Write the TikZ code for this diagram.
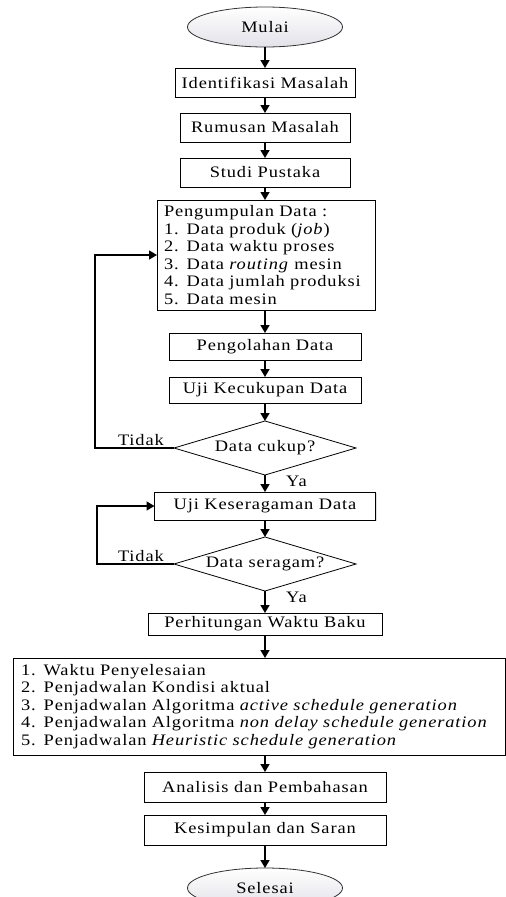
\documentclass[tikz,border=0pt]{standalone}
\usepackage{fontspec}
\setmainfont{Liberation Serif}[FakeStretch=1.15,LetterSpace=5.5]
\usetikzlibrary{positioning,shapes.geometric,arrows.meta,shadows}

\begin{document}
\begin{tikzpicture}[x=1pt, y=1pt, node distance=16pt,
  font=\fontsize{16}{17.5}\selectfont,
  box/.style={rectangle, draw, line width=0.8pt, fill=white, inner sep=2pt, outer sep=0pt,
    drop shadow={shadow xshift=1.2pt, shadow yshift=-1.2pt, opacity=0.25}},
  term/.style={ellipse, draw=black!80, line width=0.8pt, top color=white, outer sep=0pt,
    bottom color=blue!15!gray!20, minimum width=155pt, minimum height=40pt, inner sep=0pt},
  dec/.style={diamond, draw, line width=0.8pt, fill=white, aspect=3.4, outer sep=0pt,
    minimum width=182pt, minimum height=54pt, inner sep=0pt},
  list/.style={box, align=left, inner xsep=7pt},
  arr/.style={-{Triangle[width=9pt,length=8pt]}, line width=1.4pt},
  lbl/.style={inner sep=1pt}]
\useasboundingbox (0,0) rectangle (506,-897);

\node (mulai) [term] at (265,-27) {Mulai};
\node (identifikasi) [box, minimum width=180pt, minimum height=29pt, below=21pt of mulai] {Identifikasi Masalah};
\node (rumusan) [box, minimum width=170pt, minimum height=29pt, below=of identifikasi] {Rumusan Masalah};
\node (studi) [box, minimum width=170pt, minimum height=29pt, below=of rumusan] {Studi Pustaka};
\node (pengumpulan) [list, text width=204pt, minimum height=110pt, below=13pt of studi, xshift=1pt] {Pengumpulan Data :\\
1. Data produk (\textit{job})\\
2. Data waktu proses\\
3. Data \textit{routing} mesin\\
4. Data jumlah produksi\\
5. Data mesin};
\node (pengolahan) [box, minimum width=192pt, minimum height=27pt, below=23pt of pengumpulan, xshift=-1pt] {Pengolahan Data};
\node (kecukupan) [box, minimum width=192pt, minimum height=26pt, below=17pt of pengolahan] {Uji Kecukupan Data};
\node (cukup) [dec, below=18pt of kecukupan] {Data cukup?};
\node (keseragaman) [box, minimum width=221pt, minimum height=28pt, below=17pt of cukup] {Uji Keseragaman Data};
\node (seragam) [dec, below=17pt of keseragaman] {Data seragam?};
\node (perhitungan) [box, minimum width=234pt, minimum height=22pt, below=22pt of seragam] {Perhitungan Waktu Baku};
\node (hasil) [list, text width=476pt, inner xsep=8pt, minimum height=97pt, below=23pt of perhitungan, xshift=-6pt] {1. Waktu Penyelesaian\\
2. Penjadwalan Kondisi aktual\\
3. Penjadwalan Algoritma \textit{active schedule generation}\\
4. Penjadwalan Algoritma \textit{non delay schedule generation}\\
5. Penjadwalan \textit{Heuristic schedule generation}};
\node (analisis) [box, minimum width=242pt, minimum height=30pt, below=17pt of hasil, xshift=6pt] {Analisis dan Pembahasan};
\node (kesimpulan) [box, minimum width=242pt, minimum height=30pt, below=13pt of analisis] {Kesimpulan dan Saran};
\node (selesai) [term, below=23pt of kesimpulan] {Selesai};

\node (tidak1) [lbl, above left=1pt and 9pt of cukup.west] {Tidak};
\node (ya1) [lbl, below right=0pt and 20pt of cukup.south] {Ya};
\node (tidak2) [lbl, above left=1pt and 9pt of seragam.west] {Tidak};
\node (ya2) [lbl, below right=0pt and 20pt of seragam.south] {Ya};

\draw[arr] (mulai) -- (identifikasi);
\draw[arr] (identifikasi) -- (rumusan);
\draw[arr] (rumusan) -- (studi);
\draw[arr] (studi) -- (studi |- pengumpulan.north);
\draw[arr] (pengumpulan.south -| pengolahan) -- (pengolahan);
\draw[arr] (pengolahan) -- (kecukupan);
\draw[arr] (kecukupan) -- (cukup);
\draw[arr] (cukup) -- (keseragaman);
\draw[arr] (keseragaman) -- (seragam);
\draw[arr] (seragam) -- (perhitungan);
\draw[arr] (perhitungan) -- (perhitungan |- hasil.north);
\draw[arr] (hasil.south -| analisis) -- (analisis);
\draw[arr] (analisis) -- (kesimpulan);
\draw[arr] (kesimpulan) -- (selesai);
\draw[arr] (cukup.west) -- ++(-79,0) |- (pengumpulan.west);
\draw[arr] (seragam.west) -- ++(-77,0) |- (keseragaman.west);
\end{tikzpicture}
\end{document}
